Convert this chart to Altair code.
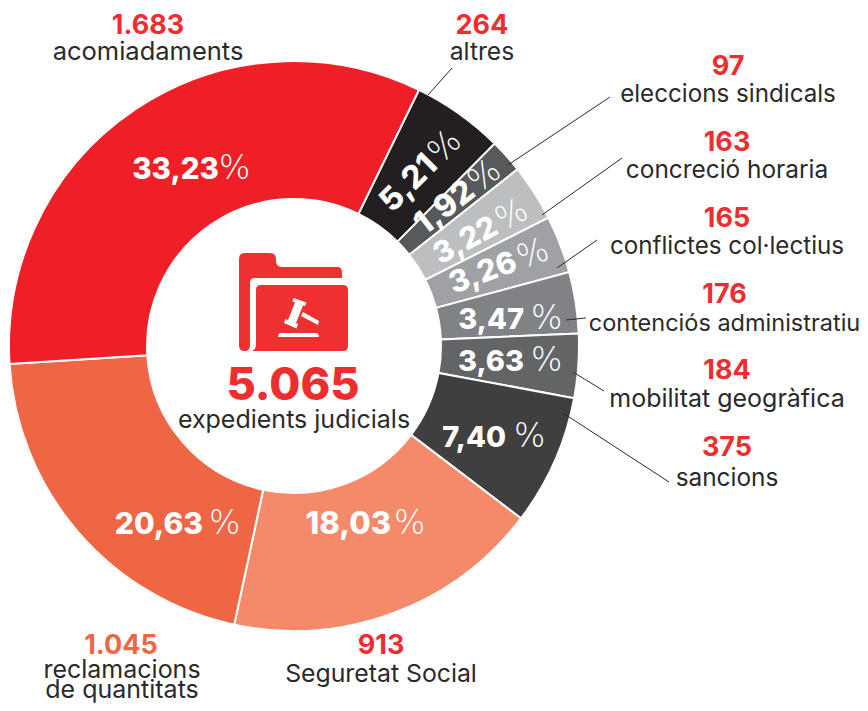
import math, re
import altair as alt
import pandas as pd

categories = ["altres", "eleccions sindicals", "concreció horaria", "conflictes col·lectius",
              "contenciós administratiu", "mobilitat geogràfica", "sancions", "Seguretat Social",
              "reclamacions de quantitats", "acomiadaments"]
counts = [264, 97, 163, 165, 176, 184, 375, 913, 1045, 1683]
count_labels = ["264", "97", "163", "165", "176", "184", "375", "913", "1.045", "1.683"]
percents = ["5,21", "1,92", "3,22", "3,26", "3,47", "3,63", "7,40", "18,03", "20,63", "33,23"]
colors = ["#231f20", "#58595b", "#bcbec0", "#a0a1a4", "#808285", "#636466", "#3f3f3f",
          "#f58a6b", "#ef6645", "#ee1f26"]
total_label = "5.065"
total_text = "expedients judicials"

FONT = "Inter"
RED = "#ee2e2e"
INK = "#2a2a2a"
OX, OY = 8, 8
CX, CY = 294, 346
START = math.radians(26)


def text(s, x, y, size, color=INK, weight=400, align="center", rot=0, font=FONT):
    return alt.Chart(alt.Data(values=[{"a": 1}])).mark_text(
        text=s, font=font, fontSize=size, fontWeight=weight, color=color, align=align,
        baseline="alphabetic", angle=(360 - rot) % 360,
    ).encode(x=alt.value(x - OX), y=alt.value(y - OY))


def rule(x1, y1, x2, y2):
    return alt.Chart(alt.Data(values=[{"a": 1}])).mark_rule(color="#2a2a2a", strokeWidth=1).encode(
        x=alt.value(x1 - OX), y=alt.value(y1 - OY), x2=alt.value(x2 - OX), y2=alt.value(y2 - OY))


def icon(path, color):
    S = 120.0
    cx, cy = 294.0, 302.0
    nums = iter(range(10000))

    def conv(m):
        i = next(nums)
        v = float(m.group(0))
        return f"{(v - (cx if i % 2 == 0 else cy)) / (S / 2):.4f}"
    p = re.sub(r"\d+(\.\d+)?", conv, path)
    return alt.Chart(alt.Data(values=[{"a": 1}])).mark_point(
        shape=p, filled=True, fill=color, color=color, opacity=1, strokeWidth=0, size=S * S
    ).encode(x=alt.value(cx - OX), y=alt.value(cy - OY))


df = pd.DataFrame({"cat": categories, "n": counts, "col": colors, "i": range(len(counts))})
arcs = alt.Chart(df).mark_arc(innerRadius=147, outerRadius=285, stroke="white", strokeWidth=2).encode(
    theta=alt.Theta("n:Q", stack=True,
                    scale=alt.Scale(domain=[0, sum(counts)], range=[START, START + 2 * math.pi])),
    color=alt.Color("col:N", scale=None),
    order=alt.Order("i:Q"),
    x=alt.value(CX - OX), y=alt.value(CY - OY),
)

layers = [arcs]

# leader lines
for seg in [(428, 95, 452, 68), (508, 165, 610, 97), (542, 215, 622, 158), (557, 268, 597, 240),
            (566, 320, 586, 318), (573, 372, 604, 391), (563, 413, 669, 482)]:
    layers.append(rule(*seg))

# percent labels: index, joint x, joint y, rotation, size, gap
P = [(9, 219, 179, 0, 29.5, 0), (8, 203, 534, 0, 30, 6), (7, 391, 534, 0, 31, 3), (6, 506, 447, 0, 29, 8),
     (5, 524, 371, 0, 29, 7), (4, 524, 329, 0, 29, 7), (3, 519, 270, 20, 30.5, 3), (2, 500, 233, 28, 30, 3),
     (1, 477, 195, 38, 32, 2), (0, 439, 167, 45, 32, 3)]
for i, x, y, rot, size, gap in P:
    layers.append(text(percents[i], x, y, size, "white", 800, "right", rot))
    a = math.radians(rot)
    layers.append(text("%", x + gap * math.cos(a), y - gap * math.sin(a), 33, "white", 200, "left", rot,
                       "DejaVu Sans"))

# outer labels: index, centre x, baseline of number, baseline of name, name size
L = [(0, 482, 34, 60, 24.7), (1, 728, 75, 102, 24.2), (2, 727, 151, 178, 24.4), (3, 727, 227, 254, 24.2),
     (4, 724.5, 303, 331, 23.5), (5, 727, 379, 407, 25), (6, 727, 456, 486, 24.4), (7, 381, 654, 682, 24.8),
     (9, 148, 34, 60, 25.5)]
for i, x, y1, y2, sz in L:
    layers.append(text(count_labels[i], x, y1, 27, RED, 700))
    layers.append(text(categories[i], x, y2, sz))
layers.append(text(count_labels[8], 121, 654, 27, "#ef6645", 700))
layers.append(text("reclamacions", 122, 678, 25))
layers.append(text("de quantitats", 122, 698, 25))

# centre
layers.append(icon("M 239 259 Q 239 253 245 253 L 270 253 Q 276 253 276 259 L 276 262 Q 277 267 282 267 "
                   "L 337 267 Q 342 267 342 272 L 342 278 L 255 278 Q 250 278 250 283 L 250 345 "
                   "Q 250 351 244.5 351 Q 239 351 239 345 Z", "#ee3030"))
layers.append(icon("M 256 290 Q 256 285 261 285 L 343 285 Q 348 285 348 290 L 348 346 Q 348 351 343 351 "
                   "L 252 351 Q 256 349 256 345 Z", "#ee3030"))
layers.append(icon("M 293.5 298 L 306.5 302.5 L 305 306 L 303 305.5 L 296 323 L 298 324 L 296.5 328.5 "
                   "L 284 323 L 285.5 319 L 288 320 L 295 302.5 L 292.5 301.5 Z "
                   "M 303 312 L 319 321 L 318 325 L 301 316 Z "
                   "M 280 333 L 317 333 Q 319 334 319 337 L 278 337 Q 278 334 280 333 Z", "white"))
layers.append(text(total_label, 293, 400, 45, RED, 800))
layers.append(text(total_text, 294, 428, 25))

chart = alt.layer(*layers).properties(
    width=852, height=695, padding=0, autosize=alt.AutoSizeParams(type="none"), background="white"
).configure_view(stroke=None)

chart.save("out.html", embed_options={"renderer": "svg", "actions": False})
